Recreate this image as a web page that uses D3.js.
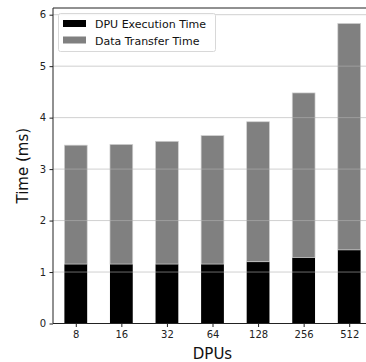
<!DOCTYPE html>
<html><head><meta charset="utf-8">
<script src="https://cdn.jsdelivr.net/npm/d3@7"></script>
<style>body{margin:0;background:#fff}svg{display:block;font-family:"DejaVu Sans",sans-serif}</style>
</head><body>
<svg id="c" width="366" height="362"></svg>
<script>
const categories = ["8","16","32","64","128","256","512"];
const dpuExec = [1.155, 1.155, 1.155, 1.155, 1.20, 1.285, 1.43];
const dataTransfer = [2.31, 2.325, 2.385, 2.495, 2.72, 3.195, 4.40];
const yTicks = [0,1,2,3,4,5,6];
const seriesNames = ["DPU Execution Time","Data Transfer Time"];
const colors = ["#000000","#808080"];

const svg = d3.select("#c");
const L = 53, R = 372, T = 8, B = 323.5;
const x = d3.scaleLinear().domain([-0.5, categories.length - 0.5]).range([L, R]);
const y = d3.scaleLinear().domain([0, 6.13]).range([B, T]);
const bw = x(0.25) - x(0);

const g = svg.append("g");
// black bars
g.selectAll("rect.e").data(dpuExec).join("rect").attr("class","e")
  .attr("x",(d,i)=>x(i)-bw/2).attr("width",bw*2)
  .attr("y",d=>y(d)).attr("height",d=>y(0)-y(d)).attr("fill",colors[0]);
// gray bars
g.selectAll("rect.t").data(dataTransfer).join("rect").attr("class","t")
  .attr("x",(d,i)=>x(i)-bw).attr("width",bw*2)
  .attr("y",(d,i)=>y(d+dpuExec[i])).attr("height",(d)=>y(0)-y(d)).attr("fill",colors[1])
  .attr("stroke","#d0d0d0").attr("stroke-width",0.7);
g.selectAll("rect.e").attr("x",(d,i)=>x(i)-bw).attr("width",bw*2);

// grid over bars
svg.append("g").selectAll("line").data(yTicks.filter(t=>t>0)).join("line")
  .attr("x1",L).attr("x2",R).attr("y1",d=>y(d)).attr("y2",d=>y(d))
  .attr("stroke","#b0b0b0").attr("stroke-opacity",0.6).attr("stroke-width",1);

// axes
const ya = svg.append("g").attr("transform",`translate(${L},0)`)
  .call(d3.axisLeft(y).tickValues(yTicks).tickFormat(d3.format("d")).tickSize(3.5).tickPadding(3.5));
const xa = svg.append("g").attr("transform",`translate(0,${B})`)
  .call(d3.axisBottom(x).tickValues(d3.range(categories.length)).tickFormat(i=>categories[i]).tickSize(3.5).tickPadding(3.5));
[ya,xa].forEach(a=>{a.selectAll("text").attr("font-size",10).attr("fill","#222").attr("font-family","DejaVu Sans");
  a.selectAll("line").attr("stroke","#222"); a.select(".domain").attr("stroke","#222");});
ya.select(".domain").attr("d",`M0,${B}V${T}`);
xa.select(".domain").attr("d",`M${L},0H${R}`);
// top spine
svg.append("line").attr("x1",L).attr("x2",R).attr("y1",T).attr("y2",T).attr("stroke","#222");

// labels
svg.append("text").attr("x",(L+R)/2).attr("y",359).attr("text-anchor","middle")
  .attr("font-size",15).attr("fill","#111").text("DPUs");
svg.append("text").attr("transform",`translate(28,${(T+B)/2}) rotate(-90)`).attr("text-anchor","middle")
  .attr("font-size",15).attr("fill","#111").text("Time (ms)");

// legend
const lg = svg.append("g");
lg.append("rect").attr("x",58.5).attr("y",13.5).attr("width",157).attr("height",38).attr("rx",2)
  .attr("fill","#fff").attr("fill-opacity",0.8).attr("stroke","#d8d8d8");
seriesNames.forEach((n,i)=>{
  lg.append("rect").attr("x",63).attr("y",20+i*16.5).attr("width",23).attr("height",7).attr("fill",colors[i]);
  lg.append("text").attr("x",95).attr("y",28+i*16.5).attr("font-size",11).attr("fill","#111").text(n);
});
</script>
</body></html>
